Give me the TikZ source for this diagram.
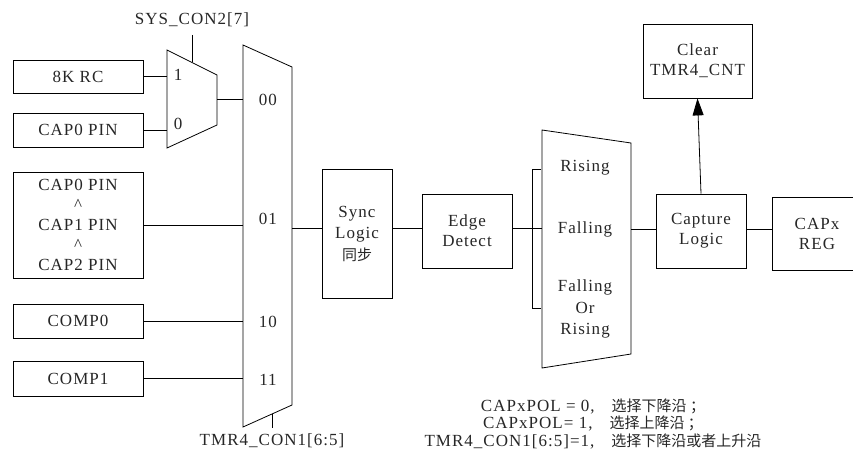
\documentclass[tikz,border=0pt]{standalone}
\usepackage{fontspec}
\setmainfont{Liberation Serif}[LetterSpace=6]
\newfontfamily\cjk{Noto Sans CJK SC}
\usetikzlibrary{arrows.meta}
\begin{document}
\begin{tikzpicture}[x=1pt,y=-1pt,
  every node/.style={font=\fontsize{17}{21.5}\selectfont, text=black!85, inner sep=0pt},
  blk/.style={draw, line width=0.8pt, align=center},
  wire/.style={line width=0.8pt}]
\useasboundingbox (0,0) rectangle (853,457);
\clip (0,0) rectangle (853,457);
% input boxes
\node[blk, minimum width=130, minimum height=33] (rc) at (78,76.5) {8K RC};
\node[blk, minimum width=130, minimum height=34] (cap0) at (78,130) {CAP0 PIN};
\node[blk, minimum width=130, minimum height=106] (stack) at (78,225) {CAP0 PIN\\[-2pt]\textasciicircum\\[-1pt]CAP1 PIN\\[-2pt]\textasciicircum\\[-1pt]CAP2 PIN};
\node[blk, minimum width=130, minimum height=34] (comp0) at (78,321) {COMP0};
\node[blk, minimum width=130, minimum height=35] (comp1) at (78,378.5) {COMP1};
% small mux
\draw[wire] (167,50) coordinate (m1tl) -- (217,75) -- (217,125) -- (167,148) coordinate (m1bl) -- cycle;
\coordinate (m1sel) at (192,62.5);
\coordinate (m1out) at (217,99);
\node (sys) at (192,20) {SYS\_CON2[7]};
\node (one) at (178,75) {1};
\node (zero) at (178,124) {0};
% big mux
\draw[wire] (243,45) coordinate (m2tl) -- (292,67) -- (292,405) -- (243,427) -- cycle;
\coordinate (m2sel) at (272,414);
\coordinate (m2out) at (292,228);
\node (s00) at (268,100) {00};
\node (s01) at (268,219) {01};
\node (s10) at (268,322) {10};
\node (s11) at (268,380) {11};
\node (tmr) at (272,441) {TMR4\_CON1[6:5]};
% processing blocks
\node[blk, minimum width=70, minimum height=129] (sync) at (357,233.5) {Sync\\Logic\\{\cjk\fontsize{15}{21.5}\selectfont 同步}};
\node[blk, minimum width=90, minimum height=74] (edge) at (467,231) {Edge\\[-1.5pt]Detect};
% edge select trapezoid
\draw[wire] (542,130) coordinate (m3tl) -- (631,143) -- (631,354) -- (542,368) -- cycle;
\coordinate (m3in) at (542,228);
\coordinate (m3out) at (631,229);
\node (rise) at (585,168) {Rising};
\node (fall) at (585,229) {Falling};
\node[align=center] (fr) at (585,309) {Falling\\Or\\Rising};
\draw[wire] (541,169) -- (532,169) -- (532,308) -- (541,308);
% output blocks
\node[blk, minimum width=90, minimum height=74] (capt) at (701,231) {Capture\\[-1.5pt]Logic};
\node[blk, minimum width=90, minimum height=73] (capx) at (817,233.5) {CAPx\\[-1.5pt]REG};
\node[blk, minimum width=109, minimum height=74] (clear) at (697.5,61) {Clear\\[-1.5pt]TMR4\_CNT};
% notes
\node[align=center, font=\fontsize{17}{17.5}\selectfont] (note) at (593,424) {CAPxPOL = 0,\quad{\cjk\fontsize{15}{17.5}\selectfont 选择下降沿 ；}\\CAPxPOL= 1,\quad{\cjk\fontsize{15}{17.5}\selectfont 选择上降沿 ；}\\TMR4\_CON1[6:5]=1,\quad{\cjk\fontsize{15}{17.5}\selectfont 选择下降沿或者上升沿}};
% wires
\draw[wire] (rc.east) -- (rc.east -| m1tl);
\draw[wire] (cap0.east) -- (cap0.east -| m1tl);
\draw[wire] (sys.south |- 0,35) -- (m1sel);
\draw[wire] (m1out) -- (m1out -| m2tl);
\draw[wire] (stack.east) -- (stack.east -| m2tl);
\draw[wire] (comp0.east) -- (comp0.east -| m2tl);
\draw[wire] (comp1.east) -- (comp1.east -| m2tl);
\draw[wire] (m2sel) -- (272,428);
\draw[wire] (m2out) -- (m2out -| sync.west);
\draw[wire] (sync.east |- m2out) -- (edge.west |- m2out);
\draw[wire] (edge.east |- m2out) -- (m3in);
\draw[wire] (m3out) -- (m3out -| capt.west);
\draw[wire] (capt.east |- m3out) -- (capx.west |- m3out);
\draw[wire, -{Triangle[length=17pt,width=11pt]}] (capt.north) -- (clear.south);
\end{tikzpicture}
\end{document}
